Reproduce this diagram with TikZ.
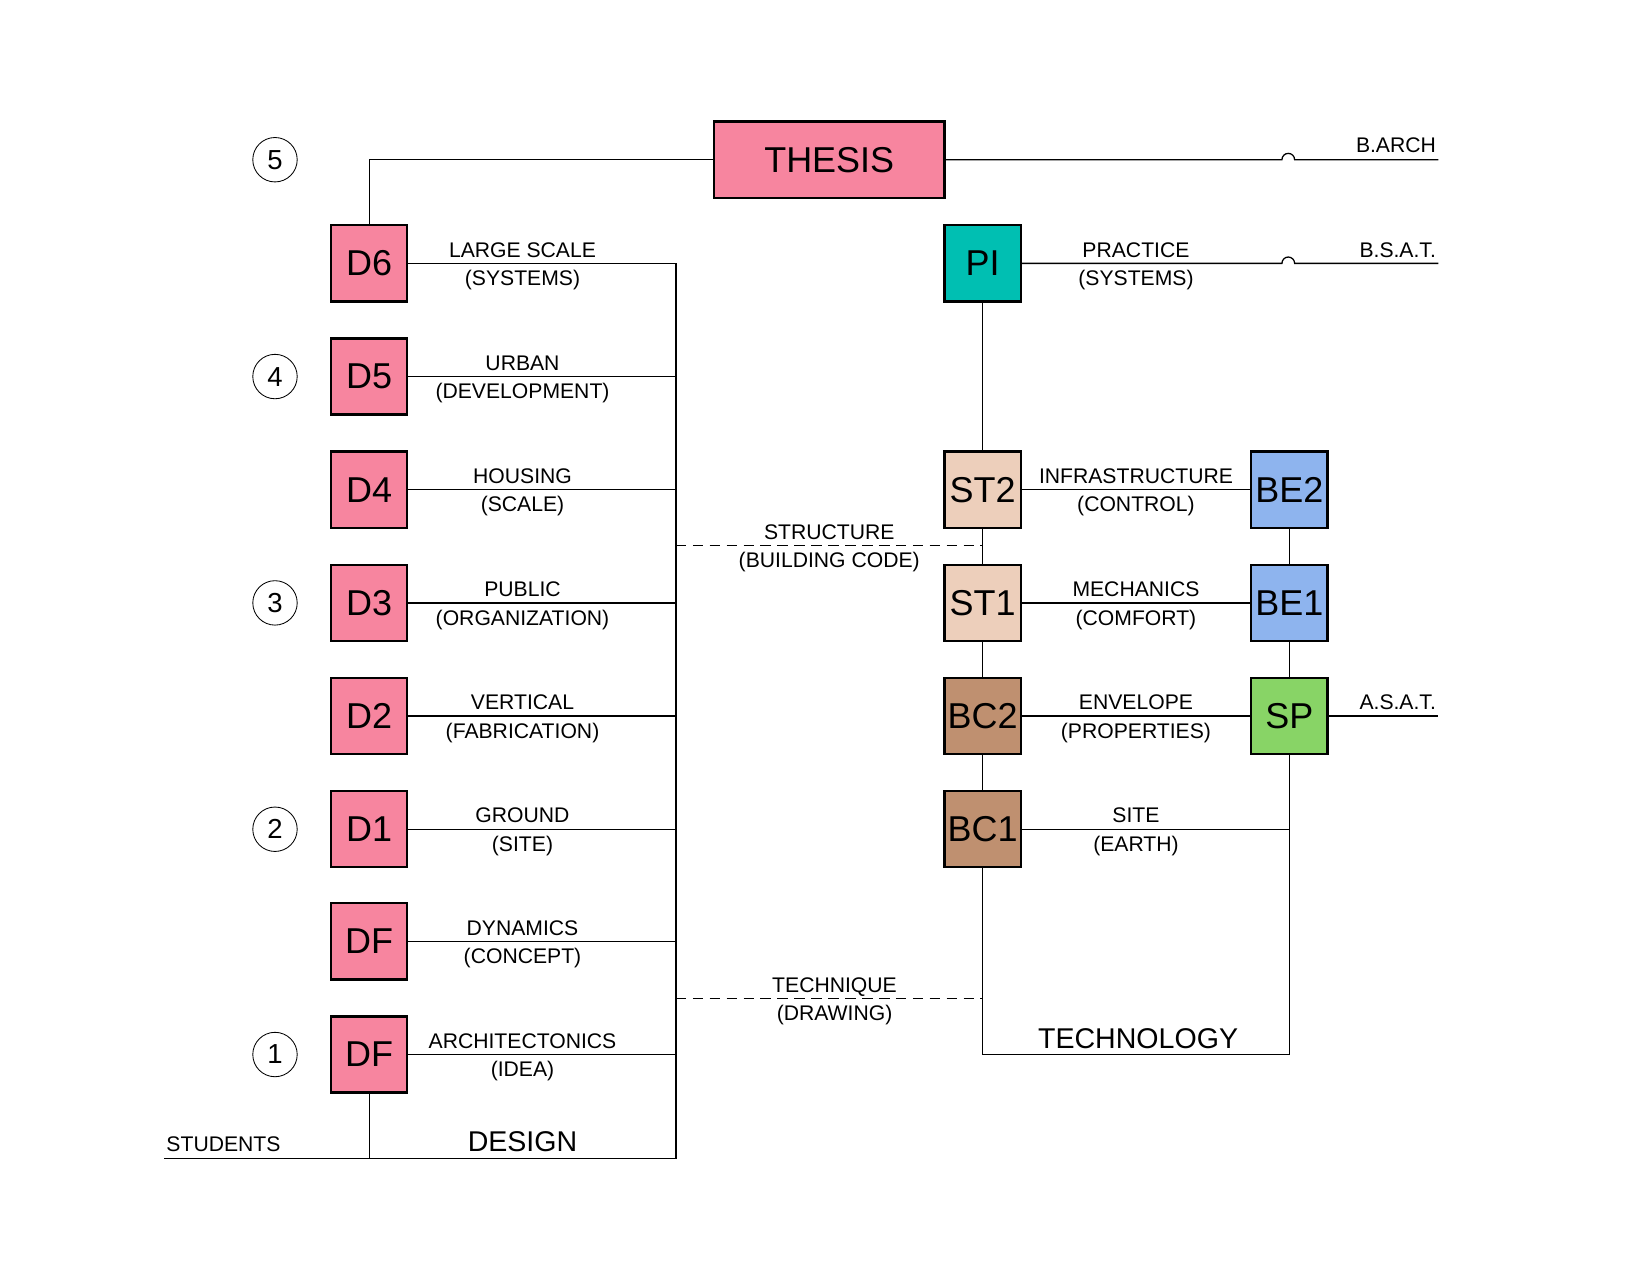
\documentclass[tikz,border=0pt]{standalone}
\usepackage{fontspec}
\setmainfont{Liberation Sans}
\definecolor{pinkc}{HTML}{F7859F}
\definecolor{tealc}{HTML}{00BFB2}
\definecolor{beigec}{HTML}{EDCFBB}
\definecolor{brownc}{HTML}{BF9070}
\definecolor{bluec}{HTML}{8EB4EE}
\definecolor{greenc}{HTML}{88D466}
\begin{document}
\begin{tikzpicture}[x=0.5pt,y=-0.5pt,
  box/.style={draw=black,line width=1.1pt,minimum width=36pt,minimum height=36pt,inner sep=0pt,font=\fontsize{17}{17}\selectfont},
  lab/.style={font=\fontsize{10}{11}\selectfont,inner sep=1pt},
  big/.style={font=\fontsize{13.5}{14}\selectfont,inner sep=1pt},
  num/.style={draw,circle,minimum size=21pt,inner sep=0pt,font=\fontsize{13}{13}\selectfont},
  ln/.style={line width=0.6pt},
  dsh/.style={line width=0.6pt,dash pattern=on 5pt off 3pt}]
\useasboundingbox (0,0) rectangle (1560,1206);
% nodes left
\node[box,fill=pinkc,minimum width=109pt] (thesis) at (784,151) {THESIS};
\node[box,fill=pinkc] (d6) at (349,249) {D6};
\node[box,fill=pinkc] (d5) at (349,356) {D5};
\node[box,fill=pinkc] (d4) at (349,463) {D4};
\node[box,fill=pinkc] (d3) at (349,570) {D3};
\node[box,fill=pinkc] (d2) at (349,677) {D2};
\node[box,fill=pinkc] (d1) at (349,784) {D1};
\node[box,fill=pinkc] (df2) at (349,890) {DF};
\node[box,fill=pinkc] (df1) at (349,997) {DF};
\node[num] (n5) at (260,151) {5};
\node[num] (n4) at (260,356) {4};
\node[num] (n3) at (260,570) {3};
\node[num] (n2) at (260,784) {2};
\node[num] (n1) at (260,997) {1};
% right nodes
\node[box,fill=tealc] (pi) at (929,249) {PI};
\node[box,fill=beigec] (st2) at (929,463) {ST2};
\node[box,fill=beigec] (st1) at (929,570) {ST1};
\node[box,fill=brownc] (bc2) at (929,677) {BC2};
\node[box,fill=brownc] (bc1) at (929,784) {BC1};
\node[box,fill=bluec] (be2) at (1219,463) {BE2};
\node[box,fill=bluec] (be1) at (1219,570) {BE1};
\node[box,fill=greenc] (sp) at (1219,677) {SP};
% coordinates
\coordinate (bt) at (639,249);
\coordinate (bb) at (639,1095);
\coordinate (stud) at (155,1095);
\coordinate (dtop) at (349,151);
\coordinate (barch) at (1360,151);
\coordinate (bsat) at (1360,249);
\coordinate (asat) at (1360,677);
\coordinate (tl) at (929,997);
\coordinate (tr) at (1219,997);
\coordinate (bcr) at (1219,784);
\coordinate (s1) at (639,516);
\coordinate (s2) at (929,516);
\coordinate (t1) at (639,944);
\coordinate (t2) at (929,944);
% left connectors
\draw[ln] (d6.north) -- (dtop) -- (thesis.west);
\draw[ln] (thesis.east) -- (1212,151) arc (180:360:6) -- (barch);
\foreach \n in {d6,d5,d4,d3,d2,d1,df2,df1} \draw[ln] (\n.east) -- (\n.east -| bt);
\draw[ln] (bt) -- (bb) -- (stud);
\draw[ln] (df1.south) -- (df1.south |- bb);
% right connectors
\draw[ln] (pi.east) -- (1212,249) arc (180:360:6) -- (bsat);
\draw[ln] (pi) -- (st2);
\draw[ln] (st2) -- (st1);
\draw[ln] (st1) -- (bc2);
\draw[ln] (bc2) -- (bc1);
\draw[ln] (bc1.south) -- (tl) -- (tr) -- (sp.south);
\draw[ln] (be2) -- (be1);
\draw[ln] (be1) -- (sp);
\draw[ln] (st2) -- (be2);
\draw[ln] (st1) -- (be1);
\draw[ln] (bc2) -- (sp);
\draw[ln] (bc1.east) -- (bcr);
\draw[ln] (sp.east) -- (asat);
\draw[dsh] (s1) -- (s2);
\draw[dsh] (t1) -- (t2);
% labels
\foreach \y/\a/\b in {249/LARGE SCALE/(SYSTEMS),356/URBAN/(DEVELOPMENT),463/HOUSING/(SCALE),570/PUBLIC/(ORGANIZATION),677/VERTICAL/(FABRICATION),784/GROUND/(SITE),890/DYNAMICS/(CONCEPT),997/ARCHITECTONICS/(IDEA)}{
  \node[lab,anchor=base] at (494,\y-6) {\a};
  \node[lab,anchor=base] at (494,\y+21) {\b};}
\foreach \y/\a/\b in {249/PRACTICE/(SYSTEMS),463/INFRASTRUCTURE/(CONTROL),570/MECHANICS/(COMFORT),677/ENVELOPE/(PROPERTIES),784/SITE/(EARTH)}{
  \node[lab,anchor=base] at (1074,\y-6) {\a};
  \node[lab,anchor=base] at (1074,\y+21) {\b};}
\node[lab,anchor=base] at (784,510) {STRUCTURE};
\node[lab,anchor=base] at (784,537) {(BUILDING CODE)};
\node[lab,anchor=base] at (789,938) {TECHNIQUE};
\node[lab,anchor=base] at (789,965) {(DRAWING)};
\node[lab,anchor=base east] at (1360,144) {B.ARCH};
\node[lab,anchor=base east] at (1360,243) {B.S.A.T.};
\node[lab,anchor=base east] at (1360,671) {A.S.A.T.};
\node[lab,anchor=base west] at (155,1089) {STUDENTS};
\node[big,anchor=base] at (494,1089) {DESIGN};
\node[big,anchor=base] at (1076,991) {TECHNOLOGY};
\end{tikzpicture}
\end{document}
